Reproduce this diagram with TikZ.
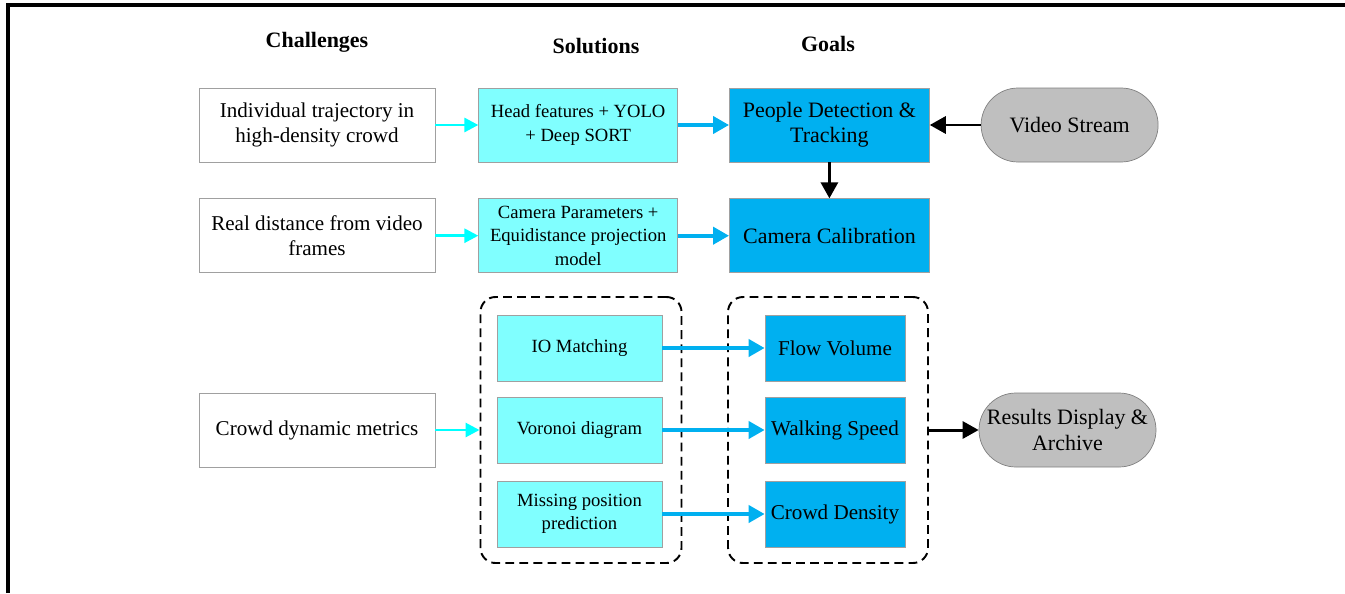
\documentclass[tikz,border=0pt]{standalone}
\usepackage{fontspec}
\setmainfont{Liberation Serif}
\usepackage{xcolor}
\usetikzlibrary{arrows.meta,positioning}
\definecolor{solcyan}{HTML}{80FFFF}
\definecolor{arrcyan}{HTML}{00FFFF}
\definecolor{goalblue}{HTML}{00B0F0}
\definecolor{ovalgray}{HTML}{BFBFBF}
\definecolor{edgegray}{HTML}{A0A0A0}

\begin{document}
\begin{tikzpicture}[
  node distance=0.72cm and 0.86cm,
  plain/.style={draw=edgegray,align=center,fill=white,
                font=\fontsize{12}{14.5}\selectfont,
                minimum height=1.48cm,minimum width=4.72cm},
  sol/.style={draw=edgegray,align=center,fill=solcyan,
              font=\fontsize{10.6}{13.4}\selectfont,
              minimum height=1.48cm,minimum width=3.98cm},
  isol/.style={sol,minimum height=1.32cm,minimum width=3.3cm},
  goal/.style={draw=edgegray,align=center,fill=goalblue,
               font=\fontsize{12.5}{14.5}\selectfont,
               minimum height=1.48cm,minimum width=4cm},
  igoal/.style={goal,font=\fontsize{12}{14}\selectfont,inner sep=1pt,
                minimum height=1.32cm,minimum width=2.8cm},
  oval/.style={draw=gray,fill=ovalgray,rounded corners=0.74cm,align=center,
               font=\fontsize{12.5}{14.5}\selectfont,
               minimum height=1.48cm,minimum width=3.54cm},
  grp/.style={draw,line width=1.1pt,dash pattern=on 5pt off 3pt,
              rounded corners=0.3cm,minimum height=5.32cm},
  head/.style={font=\fontsize{12.5}{14}\selectfont\bfseries},
  carr/.style={draw=arrcyan,line width=1.6pt,-{Triangle[length=0.28cm,width=0.28cm]}},
  barr/.style={draw=goalblue,line width=2.2pt,-{Triangle[length=0.32cm,width=0.34cm]}},
  karr/.style={draw=black,line width=1.7pt,-{Triangle[length=0.32cm,width=0.34cm]}}]
  \useasboundingbox (0,0) rectangle (26.9,-11.86);
  % frame
  \draw[line width=1.8pt] (0.16,-11.86) -- (0.16,-0.1) -- (26.9,-0.1);
  % column titles
  \node[head] (hchal) at (6.34,-0.84) {Challenges};
  \node[head] (hsol) at (11.92,-0.92) {Solutions};
  \node[head] (hgoal) at (16.56,-0.88) {Goals};
  % first two rows
  \node[plain] (traj) at (6.34,-2.5) {Individual trajectory in\\high-density crowd};
  \node[sol,right=of traj] (yolo) {Head features + YOLO\\+ Deep SORT};
  \node[goal,right=1.02cm of yolo] (detect) {People Detection \&\\Tracking};
  \node[oval,right=1.02cm of detect] (video) {Video Stream};
  \node[plain,below=of traj] (dist) {Real distance from video\\frames};
  \node[sol,below=of yolo] (param) {Camera Parameters +\\Equidistance projection\\model};
  \node[goal,below=of detect] (calib) {Camera Calibration};
  % metrics row
  \node[plain] (metric) at (6.34,-8.6) {Crowd dynamic metrics};
  \node[grp,minimum width=4.02cm] (solgrp) at (11.62,-8.6) {};
  \node[grp,minimum width=4cm] (goalgrp) at (16.56,-8.6) {};
  \node[isol] (io) at (11.59,-6.96) {IO Matching};
  \node[isol] (voro) at (11.59,-8.6) {Voronoi diagram};
  \node[isol] (miss) at (11.59,-10.28) {Missing position\\prediction};
  \node[igoal] (flow) at (16.7,-6.96) {Flow Volume};
  \node[igoal] (speed) at (16.7,-8.6) {Walking Speed};
  \node[igoal] (dens) at (16.7,-10.28) {Crowd Density};
  \node[oval] (result) at (21.35,-8.6) {Results Display \&\\Archive};
  \draw[carr] (traj) -- (yolo);
  \draw[carr] (dist) -- (param);
  \draw[carr] (metric) -- (solgrp);
  \draw[barr] (yolo) -- (detect);
  \draw[barr] (param) -- (calib);
  \draw[barr] (io) -- (flow);
  \draw[barr] (voro) -- (speed);
  \draw[barr] (miss) -- (dens);
  \draw[karr] (video) -- (detect);
  \draw[karr] (detect) -- (calib);
  \draw[karr] (goalgrp) -- (result);
\end{tikzpicture}
\end{document}
